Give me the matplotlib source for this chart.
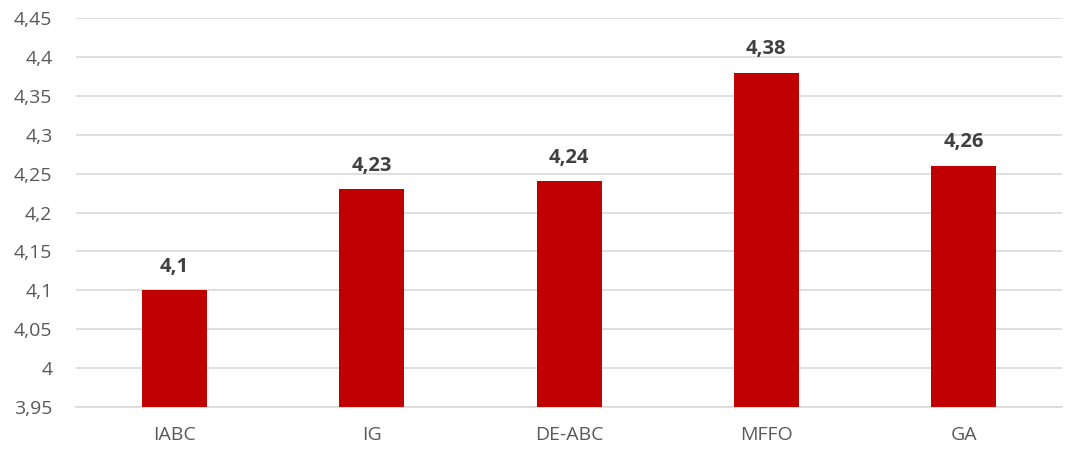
import matplotlib
matplotlib.use("Agg")
import matplotlib.pyplot as plt
from matplotlib.ticker import FuncFormatter, MultipleLocator

algoritmos = ["IABC", "IG", "DE-ABC", "MFFO", "GA"]
valores = [4.10, 4.23, 4.24, 4.38, 4.26]
rotulos = ["4,1", "4,23", "4,24", "4,38", "4,26"]

plt.rcParams["font.family"] = ["Open Sans", "DejaVu Sans"]

fig = plt.figure(figsize=(10.65, 4.5), dpi=100)
ax = fig.add_axes([0.0714, 0.0956, 0.926, 0.864])

x = range(len(algoritmos))
bars = ax.bar(x, valores, width=0.33, color="#C00000", zorder=3)
for b, txt in zip(bars, rotulos):
    ax.text(b.get_x() + b.get_width() / 2, b.get_height() + 0.0175, txt,
            ha="center", va="bottom", fontsize=14.5, fontweight="bold",
            color="#404040")

ax.set_ylim(3.95, 4.45)
ax.set_xlim(-0.5, len(algoritmos) - 0.5)
ax.yaxis.set_major_locator(MultipleLocator(0.05))
ax.yaxis.set_major_formatter(FuncFormatter(
    lambda v, _: f"{v:.2f}".rstrip("0").rstrip(".").replace(".", ",")))
ax.set_xticks(list(x))
ax.set_xticklabels(algoritmos)
ax.grid(axis="y", color="#D9D9D9", linewidth=1.2, zorder=0)
for s in ("top", "right", "left"):
    ax.spines[s].set_visible(False)
ax.spines["bottom"].set_color("#D9D9D9")
ax.spines["bottom"].set_linewidth(1.2)
ax.tick_params(axis="both", length=0, labelsize=14, labelcolor="#595959")
ax.tick_params(axis="y", pad=17)
ax.tick_params(axis="x", pad=14)

fig.savefig("out.png", dpi=100)
